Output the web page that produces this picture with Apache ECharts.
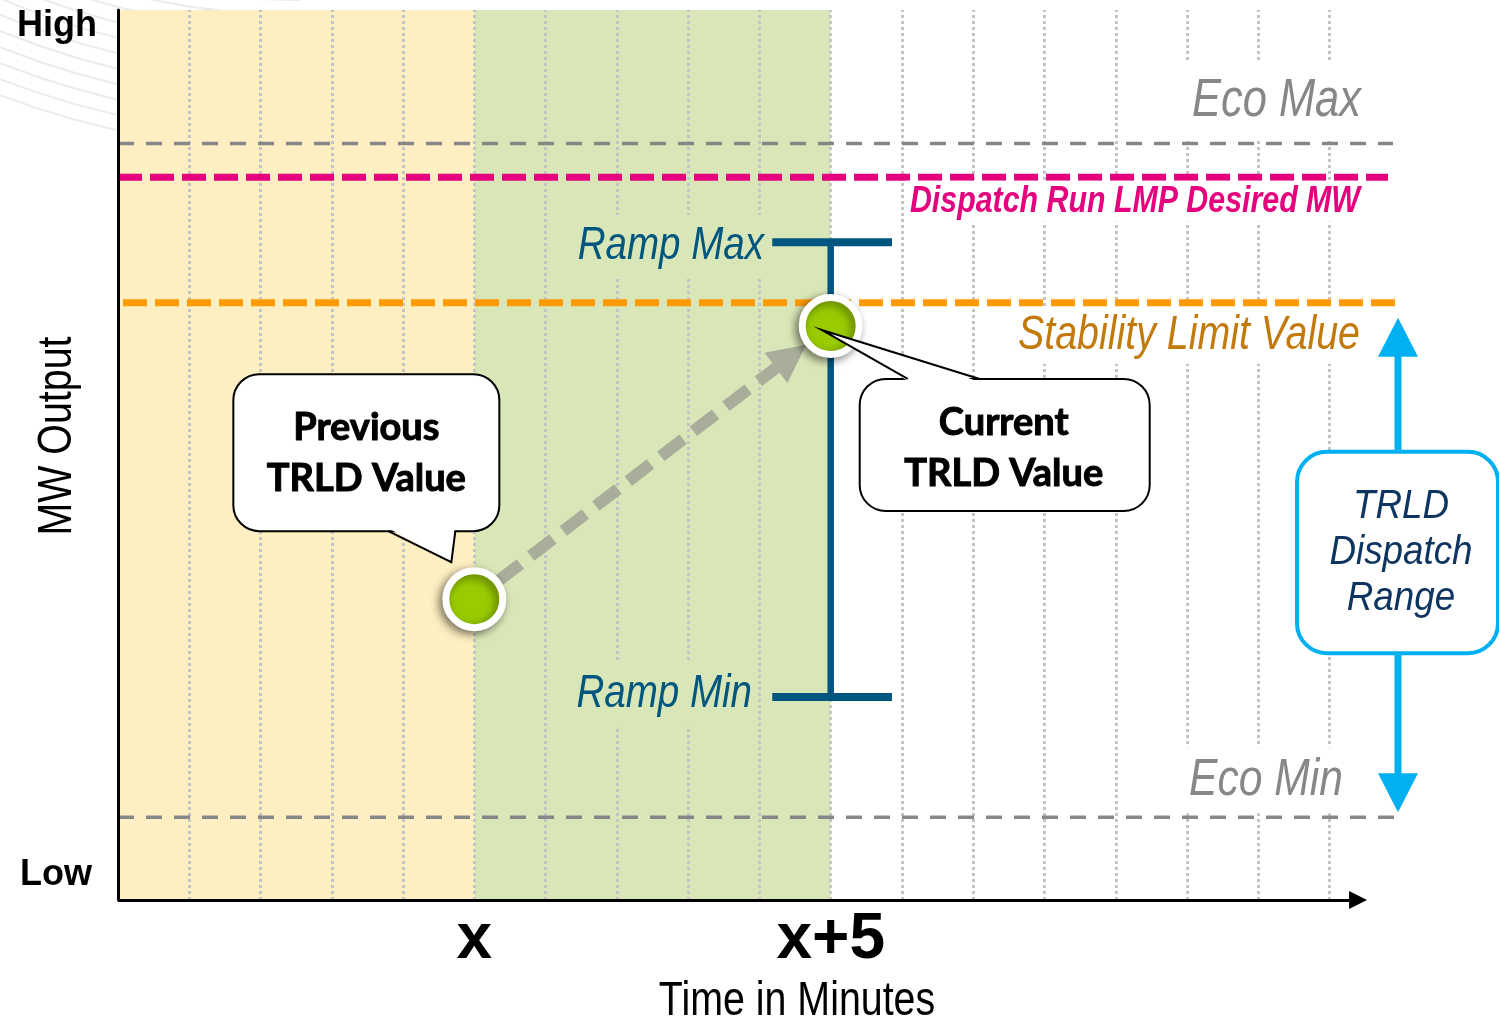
<!DOCTYPE html>
<html lang="en">
<head>
<meta charset="utf-8">
<title>TRLD Dispatch Range</title>
<script src="https://cdn.jsdelivr.net/npm/echarts@6/dist/echarts.min.js"></script>
<style>
  html, body { margin: 0; padding: 0; background: #ffffff; }
  #chart { width: 1499px; height: 1022px; }
</style>
</head>
<body>
<div id="chart"></div>
<script>
// ---------- data ----------
// time axis in minutes: 0 = x-5, 5 = x, 10 = x+5
const minuteMarks = [1, 2, 3, 4, 5, 6, 7, 8, 9, 10, 11, 12, 13, 14, 15, 16, 17];
const timeTickValues = [5, 10];
const timeTickLabels = ['x', 'x+5'];
const previousInterval = [0, 5];
const currentInterval = [5, 10];

// MW output on a 0 (Low) .. 100 (High) scale
const levelNames = ['Eco Max', 'Dispatch Run LMP Desired MW', 'Stability Limit Value', 'Eco Min'];
const levelValues = [85.0, 81.2, 67.1, 9.3];
const rampNames = ['Ramp Max', 'Ramp Min'];
const rampValues = [73.9, 22.8];
const trldNames = ['Previous\nTRLD Value', 'Current\nTRLD Value'];
const trldTimes = [5, 10];
const trldValues = [33.8, 64.5];

// ---------- styles ----------
// narrow lettering: Liberation Sans squeezed horizontally
const SANS = '"Liberation Sans", Arial, sans-serif';
const NARROW_SCALE = 0.82;
const CALLOUT_FONT = 'Lato, "Noto Sans", sans-serif';

const X_MAX = 17.96;      // plotting room to the right edge of the limit lines
const X_AXIS_END = 17.4;  // where the time arrow stops
const RAMP_CAP = [9.18, 10.86];
const RAMP_COLOR = '#00567F';

const levelStyles = {
  'Eco Max': { color: '#878787', width: 3.5, dash: [16, 12], from: 0, to: 17.89 },
  'Dispatch Run LMP Desired MW': { color: '#E5007D', width: 7, dash: [24, 8], from: 0, to: 17.82 },
  'Stability Limit Value': { color: '#FF9A00', width: 7, dash: [24, 8], from: 0.07, to: 17.93 },
  'Eco Min': { color: '#878787', width: 3.5, dash: [16, 12], from: 0, to: 17.92 }
};

const levelLabelLayout = {
  'Eco Max': { right: 1361, dy: -42, font: 'italic 53px ' + SANS, color: '#878787', bg: '#ffffff', pad: [14, 8, 10, 8] },
  'Dispatch Run LMP Desired MW': { right: 1360, dy: 24, font: 'italic bold 37px ' + SANS, color: '#E5007D', bg: '#ffffff', pad: [2, 6, 2, 6] },
  'Stability Limit Value': { right: 1360, dy: 33, font: 'italic 48px ' + SANS, color: '#C27A0C', bg: '#ffffff', pad: [4, 6, 4, 6] },
  'Eco Min': { right: 1343, dy: -37, font: 'italic 52px ' + SANS, color: '#878787', bg: '#ffffff', pad: [10, 8, 4, 8] }
};
const rampLabelLayout = {
  'Ramp Max': { right: 764, dy: 4, font: 'italic 47px ' + SANS, color: RAMP_COLOR, bg: '#D9E7B8', pad: [8, 4, 8, 4] },
  'Ramp Min': { right: 752, dy: -3, font: 'italic 47px ' + SANS, color: RAMP_COLOR, bg: '#D9E7B8', pad: [8, 4, 8, 4] }
};

const chart = echarts.init(document.getElementById('chart'), null, { renderer: 'canvas' });

// ---------- series ----------
const series = [];

// shaded minute windows
series.push({
  id: 'shading', type: 'line', data: [], z: 1, silent: true,
  markArea: {
    silent: true, z: 1,
    emphasis: { disabled: true },
    data: [
      [{ xAxis: previousInterval[0], itemStyle: { color: '#FEEFC2', opacity: 1 } }, { xAxis: previousInterval[1] }],
      [{ xAxis: currentInterval[0], itemStyle: { color: '#D9E7B8', opacity: 1 } }, { xAxis: currentInterval[1] }]
    ]
  }
});

// dotted minute grid
series.push({
  id: 'minuteGrid', type: 'line', data: [], z: 2, silent: true,
  markLine: {
    silent: true, z: 2, symbol: ['none', 'none'], label: { show: false },
    emphasis: { disabled: true },
    lineStyle: { type: 'dotted', color: '#C4C4C4', width: 3 },
    data: minuteMarks.map(m => ({ xAxis: m }))
  }
});

// horizontal limit lines
levelNames.forEach((name, i) => {
  const s = levelStyles[name];
  series.push({
    id: 'level' + i, name: name, type: 'line', z: 3, clip: false, silent: true,
    symbol: 'none',
    data: [[s.from, levelValues[i]], [s.to, levelValues[i]]],
    lineStyle: { color: s.color, width: s.width, type: s.dash, cap: 'butt' }
  });
});

// ramp range bar at x+5: two caps and the upright
function rampSegment(id, pts, width) {
  return {
    id: id, type: 'line', z: 4, clip: false, silent: true, symbol: 'none',
    data: pts, lineStyle: { color: RAMP_COLOR, width: width, type: 'solid', cap: 'butt' }
  };
}
series.push(rampSegment('rampUpright', [[trldTimes[1], rampValues[1]], [trldTimes[1], rampValues[0]]], 6.5));
series.push(rampSegment('rampMaxCap', [[RAMP_CAP[0], rampValues[0]], [RAMP_CAP[1], rampValues[0]]], 8));
series.push(rampSegment('rampMinCap', [[RAMP_CAP[0], rampValues[1]], [RAMP_CAP[1], rampValues[1]]], 8));

// time arrow along the bottom
series.push({
  id: 'timeArrow', type: 'lines', coordinateSystem: 'cartesian2d', z: 10, silent: true, clip: false,
  symbol: ['none', 'triangle'], symbolSize: 18,
  lineStyle: { color: '#000000', width: 3, opacity: 1, curveness: 0 },
  data: [{ coords: [[0, 0], [X_AXIS_END, 0]] }]
});

// move from previous to current TRLD value (endpoints trimmed after layout)
series.push({
  id: 'trajectory', type: 'lines', coordinateSystem: 'cartesian2d', z: 5, silent: true, clip: false,
  symbol: ['none', 'triangle'], symbolSize: 38,
  lineStyle: { color: '#A9AD9A', width: 12, opacity: 1, type: [28, 13], curveness: 0 },
  data: []
});

// TRLD values
series.push({
  id: 'trld', type: 'scatter', z: 6, silent: true,
  symbol: 'circle', symbolSize: 57,
  data: trldTimes.map((t, i) => ({ name: trldNames[i], value: [t, trldValues[i]] })),
  itemStyle: {
    color: '#99CC00', borderColor: '#ffffff', borderWidth: 7, opacity: 1,
    shadowBlur: 10, shadowColor: 'rgba(0,0,0,0.45)', shadowOffsetX: -3, shadowOffsetY: 3
  }
});

chart.setOption({
  animation: false,
  backgroundColor: '#ffffff',
  grid: { left: 118, top: 10, width: 1280, height: 890, outerBoundsMode: 'none', containLabel: false },
  xAxis: {
    type: 'value', min: 0, max: X_MAX, interval: 1, z: 10,
    axisLine: { show: false },
    axisTick: { show: false },
    splitLine: { show: false },
    axisLabel: {
      show: true, margin: 8, showMinLabel: false, showMaxLabel: false,
      formatter: v => { const k = timeTickValues.indexOf(v); return k >= 0 ? timeTickLabels[k] : ''; },
      fontFamily: SANS, fontWeight: 'bold', fontSize: 64, color: '#000'
    }
  },
  yAxis: {
    type: 'value', min: 0, max: 100, z: 10,
    axisLine: { show: true, onZero: false, lineStyle: { color: '#000', width: 3 } },
    axisTick: { show: false }, axisLabel: { show: false }, splitLine: { show: false }
  },
  series: series
});

// ---------- annotations placed from the axis scales ----------
function txt(x, y, text, font, fill, align, extra, scale) {
  return {
    type: 'text', x: x, y: y, z: 60, silent: true,
    scaleX: scale || 1,
    style: Object.assign({
      text: text, font: font, fill: fill,
      align: align || 'center', verticalAlign: 'middle',
      textAlign: align || 'center', textVerticalAlign: 'middle'
    }, extra || {})
  };
}

function addCallout(els, rect, tail, text, center) {
  els.push({
    type: 'rect', z: 40, silent: true,
    shape: { x: rect.x, y: rect.y, width: rect.w, height: rect.h, r: 26 },
    style: { fill: '#ffffff', stroke: '#000000', lineWidth: 2 }
  });
  const inward = tail[1][1] > tail[0][1] ? -2.5 : 2.5;
  els.push({
    type: 'polygon', z: 41, silent: true,
    shape: { points: [[tail[0][0] + 1, tail[0][1] + inward], tail[1], [tail[2][0] - 1, tail[2][1] + inward]] },
    style: { fill: '#ffffff', stroke: 'none' }
  });
  els.push({
    type: 'polyline', z: 42, silent: true,
    shape: { points: tail },
    style: { stroke: '#000000', lineWidth: 2, fill: 'none' }
  });
  els.push(txt(center[0], center[1], text, 'bold 38px ' + CALLOUT_FONT, '#000', 'center',
    { lineHeight: 51, stroke: '#000', lineWidth: 1 }));
}

function overlay() {
  const P = (x, y) => chart.convertToPixel({ gridIndex: 0 }, [x, y]);
  const yOf = v => P(0, v)[1];
  const els = [];

  // faint background arcs
  for (let r = 700; r <= 850; r += 15) {
    els.push({
      type: 'arc', z: 0, silent: true,
      shape: { cx: 300, cy: -700, r: r, startAngle: Math.PI * 0.5, endAngle: Math.PI },
      style: { stroke: 'rgba(0,0,0,0.08)', lineWidth: 2, fill: 'none' }
    });
  }

  // axis words
  const top = P(0, 100), bottom = P(0, 0);
  els.push(txt(top[0] - 21, top[1] + 16, 'High', 'bold 36px ' + SANS, '#000', 'right'));
  els.push(txt(bottom[0] - 26, bottom[1] - 25, 'Low', 'bold 36px ' + SANS, '#000', 'right'));
  els.push(Object.assign(txt(58, (top[1] + bottom[1]) / 2 - 19, 'MW Output', '48px ' + SANS, '#000', 'center', null, NARROW_SCALE), { rotation: Math.PI / 2 }));
  els.push(txt(797, bottom[1] + 102, 'Time in Minutes', '48px ' + SANS, '#000', 'center', null, NARROW_SCALE));

  // limit labels
  levelNames.forEach((name, i) => {
    const L = levelLabelLayout[name];
    els.push(txt(L.right + L.pad[1] * NARROW_SCALE, yOf(levelValues[i]) + L.dy, name, L.font, L.color, 'right',
      { backgroundColor: L.bg, padding: L.pad }, NARROW_SCALE));
  });
  rampNames.forEach((name, i) => {
    const L = rampLabelLayout[name];
    els.push(txt(L.right + L.pad[1] * NARROW_SCALE, yOf(rampValues[i]) + L.dy, name, L.font, L.color, 'right',
      { backgroundColor: L.bg, padding: L.pad }, NARROW_SCALE));
  });

  // callouts
  const prev = P(trldTimes[0], trldValues[0]);
  const cur = P(trldTimes[1], trldValues[1]);
  addCallout(els,
    { x: prev[0] - 241, y: prev[1] - 225, w: 266, h: 157 },
    [[prev[0] - 86, prev[1] - 68], [prev[0] - 23, prev[1] - 37], [prev[0] - 19, prev[1] - 68]],
    trldNames[0], [prev[0] - 108, prev[1] - 146]);
  addCallout(els,
    { x: cur[0] + 29, y: cur[1] + 53, w: 290, h: 132 },
    [[cur[0] + 77, cur[1] + 53], [cur[0] - 9, cur[1] + 4], [cur[0] + 149, cur[1] + 53]],
    trldNames[1], [cur[0] + 173, cur[1] + 122]);

  // TRLD dispatch range: from Eco Min up to the stability limit
  const stabY = yOf(levelValues[2]), ecoMinY = yOf(levelValues[3]);
  const ax = P(17.96, 0)[0];
  const boxTop = stabY + 149, boxBot = ecoMinY - 164;
  const CYAN = '#00B0F0';
  els.push({ type: 'line', z: 44, silent: true, shape: { x1: ax, y1: stabY + 50, x2: ax, y2: boxTop }, style: { stroke: CYAN, lineWidth: 7 } });
  els.push({ type: 'line', z: 44, silent: true, shape: { x1: ax, y1: boxBot, x2: ax, y2: ecoMinY - 40 }, style: { stroke: CYAN, lineWidth: 7 } });
  els.push({ type: 'polygon', z: 44, silent: true, shape: { points: [[ax, stabY + 15], [ax - 20, stabY + 54], [ax + 20, stabY + 54]] }, style: { fill: CYAN } });
  els.push({ type: 'polygon', z: 44, silent: true, shape: { points: [[ax, ecoMinY - 5], [ax - 20, ecoMinY - 44], [ax + 20, ecoMinY - 44]] }, style: { fill: CYAN } });
  els.push({
    type: 'rect', z: 45, silent: true,
    shape: { x: ax - 101, y: boxTop, width: 201, height: boxBot - boxTop, r: 30 },
    style: { fill: '#ffffff', stroke: CYAN, lineWidth: 4 }
  });
  els.push(txt(ax + 3, (boxTop + boxBot) / 2, 'TRLD\nDispatch\nRange', 'italic 40px ' + SANS, '#0E3560', 'center', { lineHeight: 46 }, 0.92));

  // trimmed trajectory between the two TRLD points
  const dx = cur[0] - prev[0], dy = cur[1] - prev[1], len = Math.hypot(dx, dy);
  const ux = dx / len, uy = dy / len;
  const start = chart.convertFromPixel({ gridIndex: 0 }, [prev[0] + ux * 30, prev[1] + uy * 30]);
  const end = chart.convertFromPixel({ gridIndex: 0 }, [cur[0] - ux * 50, cur[1] - uy * 50]);

  chart.setOption({
    graphic: { elements: els },
    series: [{ id: 'trajectory', data: [{ coords: [start, end] }] }]
  });
}

overlay();
</script>
</body>
</html>
